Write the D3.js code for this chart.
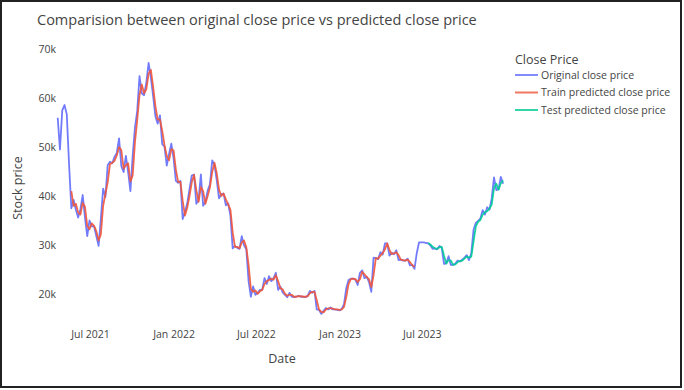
<!DOCTYPE html>
<html>
<head>
<meta charset="utf-8">
<script src="https://cdn.jsdelivr.net/npm/d3@7"></script>
<style>
  body { margin: 0; background: #fff; }
  svg { display: block; font-family: "Open Sans", sans-serif; }
</style>
</head>
<body>
<div id="chart"></div>
<script>
// closing prices in thousands, one value every 5 days starting 2021-04-21
var startDate = new Date(2021, 3, 21);
var stepDays = 5;

var originalClose = [
  56.0, 49.5, 57.5, 58.6, 56.7, 46.5, 37.5, 39.2, 37.2, 35.6,
  37.3, 40.2, 35.6, 31.8, 35.0, 33.8, 33.8, 31.8, 29.8, 35.4,
  41.5, 39.8, 46.3, 47.0, 46.7, 48.0, 48.8, 51.8, 46.1, 44.9,
  48.2, 44.9, 41.0, 48.2, 54.0, 57.4, 64.5, 61.0, 60.6, 63.2,
  67.2, 64.2, 60.4, 56.3, 54.8, 56.5, 50.6, 50.1, 46.2, 48.6,
  50.7, 47.7, 43.1, 42.7, 43.1, 35.3, 36.8, 38.5, 41.4, 44.2,
  44.4, 38.4, 39.2, 44.4, 38.0, 38.8, 41.1, 42.4, 47.3, 46.3,
  43.2, 39.5, 40.4, 40.5, 38.1, 38.5, 36.0, 29.3, 29.8, 29.4,
  29.2, 31.8, 29.9, 29.1, 22.6, 19.4, 21.5, 19.8, 20.2, 20.8,
  20.8, 23.2, 22.0, 23.6, 22.6, 23.2, 24.3, 20.8, 21.5, 20.3,
  19.8, 19.3, 20.2, 19.4, 19.3, 19.4, 19.6, 19.4, 19.4, 19.3,
  19.6, 20.6, 20.2, 20.6, 16.8, 16.7, 15.9, 16.5, 17.1, 16.8,
  17.2, 16.8, 16.8, 16.7, 16.6, 16.9, 17.9, 21.2, 22.8, 23.1,
  23.1, 22.9, 21.8, 24.3, 24.8, 23.2, 23.5, 22.4, 20.4, 27.4,
  27.3, 27.1, 28.5, 28.0, 30.3, 30.3, 27.8, 28.4, 28.1, 28.9,
  26.9, 27.0, 26.8, 26.8, 27.2, 25.8, 25.9, 25.1, 28.3, 30.5,
  30.5, 30.5, 30.4, 30.3, 29.9, 29.2, 29.3, 29.1, 29.8, 29.4,
  26.1, 26.2, 27.7, 25.9, 25.9, 26.2, 26.8, 26.6, 27.0, 27.4,
  27.9, 26.9, 28.3, 33.1, 34.5, 34.9, 35.4, 37.1, 36.2, 37.7,
  37.2, 39.5, 43.8, 41.2, 41.4, 43.9, 42.5
];

// train predictions begin at step 6
var trainStart = 6;
var trainPredicted = [
  41.0, 38.0, 38.4, 36.6, 36.2, 38.6, 37.8, 33.9, 33.2, 34.4,
  33.9, 32.8, 30.9, 32.2, 38.0, 40.4, 42.8, 46.5, 46.8, 47.2,
  48.3, 50.0, 49.4, 45.6, 46.3, 46.7, 43.0, 44.2, 51.0, 55.6,
  60.6, 62.8, 61.0, 61.8, 65.0, 65.8, 62.3, 58.4, 55.6, 55.6,
  53.3, 50.4, 48.2, 47.3, 49.6, 49.3, 45.4, 42.9, 42.9, 39.0,
  36.0, 37.6, 40.0, 42.8, 44.3, 41.2, 38.8, 41.8, 41.0, 38.4,
  40.0, 41.8, 44.9, 46.8, 44.6, 41.3, 40.0, 40.5, 39.3, 38.3,
  37.2, 32.6, 29.6, 29.6, 29.3, 30.5, 30.9, 29.5, 25.9, 21.0,
  20.4, 20.7, 20.0, 20.5, 20.8, 22.0, 22.6, 22.8, 23.1, 22.9,
  23.8, 22.6, 21.1, 20.9, 20.0, 19.6, 19.8, 19.8, 19.4, 19.4,
  19.5, 19.5, 19.4, 19.4, 19.5, 20.1, 20.4, 20.4, 18.7, 16.8,
  16.3, 16.2, 16.8, 17.0, 17.0, 17.0, 16.8, 16.8, 16.7, 16.8,
  17.3, 19.4, 22.0, 23.0, 23.1, 23.0, 22.4, 23.0, 24.5, 24.0,
  23.4, 23.0, 21.4, 23.8, 27.3, 27.2, 27.8, 28.3, 29.1, 30.3,
  29.0, 28.1, 28.3, 28.5, 27.9, 27.0, 26.9, 26.8, 27.0, 26.5,
  25.9, 25.5
];

// test predictions begin at step 163
var testStart = 163;
var testPredicted = [
  30.4, 30.1, 29.6, 29.3, 29.2, 29.5, 29.6, 27.8, 26.2, 26.9,
  26.8, 25.9, 26.0, 26.5, 26.7, 26.8, 27.2, 27.6, 27.4, 27.6,
  30.7, 33.8, 34.7, 35.1, 36.2, 36.7, 36.9, 37.4, 38.3, 41.6,
  42.5, 41.3, 42.6, 43.2
];

var seriesNames = ["Original close price", "Train predicted close price", "Test predicted close price"];
var seriesColors = ["#636efa", "#ef553b", "#00cc96"];
var yTicks = [20, 30, 40, 50, 60, 70];

var width = 684, height = 390;

function toPoints(values, offset) {
  return values.map(function(v, i) {
    return { date: d3.timeDay.offset(startDate, (offset + i) * stepDays), value: v };
  });
}

var series = [
  toPoints(originalClose, 0),
  toPoints(trainPredicted, trainStart),
  toPoints(testPredicted, testStart)
];

var svg = d3.select("#chart").append("svg")
  .attr("width", width)
  .attr("height", height);

svg.append("rect")
  .attr("width", width)
  .attr("height", height)
  .attr("fill", "#fff");

// outer frame of the screenshot
svg.append("rect")
  .attr("x", 1)
  .attr("y", 1)
  .attr("width", 680)
  .attr("height", 386)
  .attr("fill", "none")
  .attr("stroke", "#222")
  .attr("stroke-width", 2);

var x = d3.scaleTime()
  .domain([startDate, d3.timeDay.offset(startDate, (originalClose.length - 1) * stepDays)])
  .range([57.7, 503.1]);

var y = d3.scaleLinear()
  .domain([13.62, 70.88])
  .range([325, 45]);

// x axis
var xAxis = svg.append("g")
  .attr("transform", "translate(0,325)")
  .call(d3.axisBottom(x)
    .ticks(d3.timeMonth.every(6))
    .tickFormat(d3.timeFormat("%b %Y"))
    .tickSize(0)
    .tickPadding(6));
xAxis.select(".domain").remove();
xAxis.selectAll("text")
  .style("font-family", "'Open Sans', sans-serif")
  .style("font-size", "10.5px")
  .attr("fill", "#444");

// y axis
var yAxis = svg.append("g")
  .attr("transform", "translate(59,0)")
  .call(d3.axisLeft(y)
    .tickValues(yTicks)
    .tickFormat(function(d) { return d + "k"; })
    .tickSize(0)
    .tickPadding(3));
yAxis.select(".domain").remove();
yAxis.selectAll("text")
  .style("font-family", "'Open Sans', sans-serif")
  .style("font-size", "10.5px")
  .attr("fill", "#444");

var line = d3.line()
  .x(function(d) { return x(d.date); })
  .y(function(d) { return y(d.value); });

svg.append("g").selectAll("path")
  .data(series)
  .enter()
  .append("path")
  .attr("d", line)
  .attr("fill", "none")
  .attr("stroke", function(d, i) { return seriesColors[i]; })
  .attr("stroke-width", 1.8)
  .attr("stroke-opacity", 0.9)
  .attr("stroke-linejoin", "round");

// titles
svg.append("text")
  .attr("x", 37)
  .attr("y", 25)
  .attr("fill", "#444")
  .style("font-size", "14.5px")
  .text("Comparision between original close price vs predicted close price");

svg.append("text")
  .attr("x", 282)
  .attr("y", 363)
  .attr("text-anchor", "middle")
  .attr("fill", "#444")
  .style("font-size", "12.5px")
  .text("Date");

svg.append("text")
  .attr("transform", "translate(22,188) rotate(-90)")
  .attr("text-anchor", "middle")
  .attr("fill", "#444")
  .style("font-size", "12.5px")
  .text("Stock price");

// legend
var legend = svg.append("g").attr("transform", "translate(515,0)");

legend.append("text")
  .attr("x", 0)
  .attr("y", 64)
  .attr("fill", "#444")
  .style("font-size", "12.5px")
  .text("Close Price");

var legendItem = legend.selectAll(".item")
  .data(seriesNames)
  .enter()
  .append("g")
  .attr("class", "item")
  .attr("transform", function(d, i) { return "translate(0," + (75 + i * 17.5) + ")"; });

legendItem.append("line")
  .attr("x1", 0)
  .attr("x2", 23)
  .attr("stroke", function(d, i) { return seriesColors[i]; })
  .attr("stroke-opacity", 0.8)
  .attr("stroke-width", 2);

legendItem.append("text")
  .attr("x", 26)
  .attr("dy", "0.35em")
  .attr("fill", "#444")
  .style("font-size", "10.5px")
  .text(function(d) { return d; });
</script>
</body>
</html>
